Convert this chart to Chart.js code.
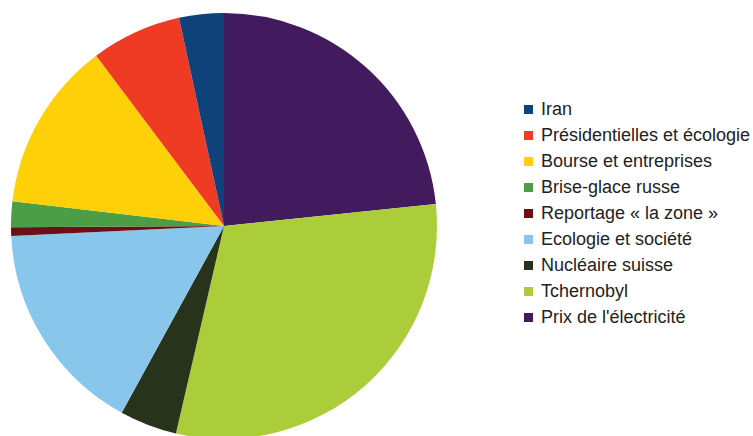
<!DOCTYPE html>
<html><head><meta charset="utf-8">
<script src="https://cdn.jsdelivr.net/npm/chart.js"></script>
<style>
html,body{margin:0;padding:0;width:753px;height:436px;overflow:hidden;background:#fff;}
#wrap{position:absolute;left:0;top:0;width:448px;height:452px;}
#legend{position:absolute;left:524px;top:96px;font-family:"Liberation Sans",Arial,sans-serif;font-size:18px;color:#222;}
.row{height:26.1px;display:flex;align-items:center;white-space:nowrap;}
.sw{width:9px;height:9px;margin-right:8px;flex:none;}
</style></head><body>
<div id="wrap"><canvas id="c" width="448" height="452"></canvas></div>
<div id="legend"></div>
<script>
// Legend order (as in reference)
const categories = ["Iran","Présidentielles et écologie","Bourse et entreprises","Brise-glace russe","Reportage « la zone »","Ecologie et société","Nucléaire suisse","Tchernobyl","Prix de l'électricité"];
const values = [3.39, 6.86, 12.89, 1.96, 0.65, 16.28, 4.35, 30.28, 23.35];
const colors = ["#0f4278","#ef3b24","#fdd008","#4c9e46","#6e0e16","#89c6ec","#27331a","#accd3a","#421b5e"];

// drawn clockwise from top in reverse order
const labelsR = categories.slice().reverse();
const valuesR = values.slice().reverse();
const colorsR = colors.slice().reverse();

new Chart(document.getElementById('c'), {
  type: 'pie',
  data: { labels: labelsR, datasets: [{ data: valuesR, backgroundColor: colorsR, borderWidth: 0 }] },
  options: {
    responsive: false, animation: false,
    layout: { padding: 11 },
    plugins: { legend: { display: false }, tooltip: { enabled: false } }
  }
});

const lg = document.getElementById('legend');
categories.forEach((c, i) => {
  const r = document.createElement('div'); r.className = 'row';
  const s = document.createElement('span'); s.className = 'sw'; s.style.background = colors[i];
  const t = document.createElement('span'); t.textContent = c;
  r.appendChild(s); r.appendChild(t); lg.appendChild(r);
});
</script>
</body></html>
